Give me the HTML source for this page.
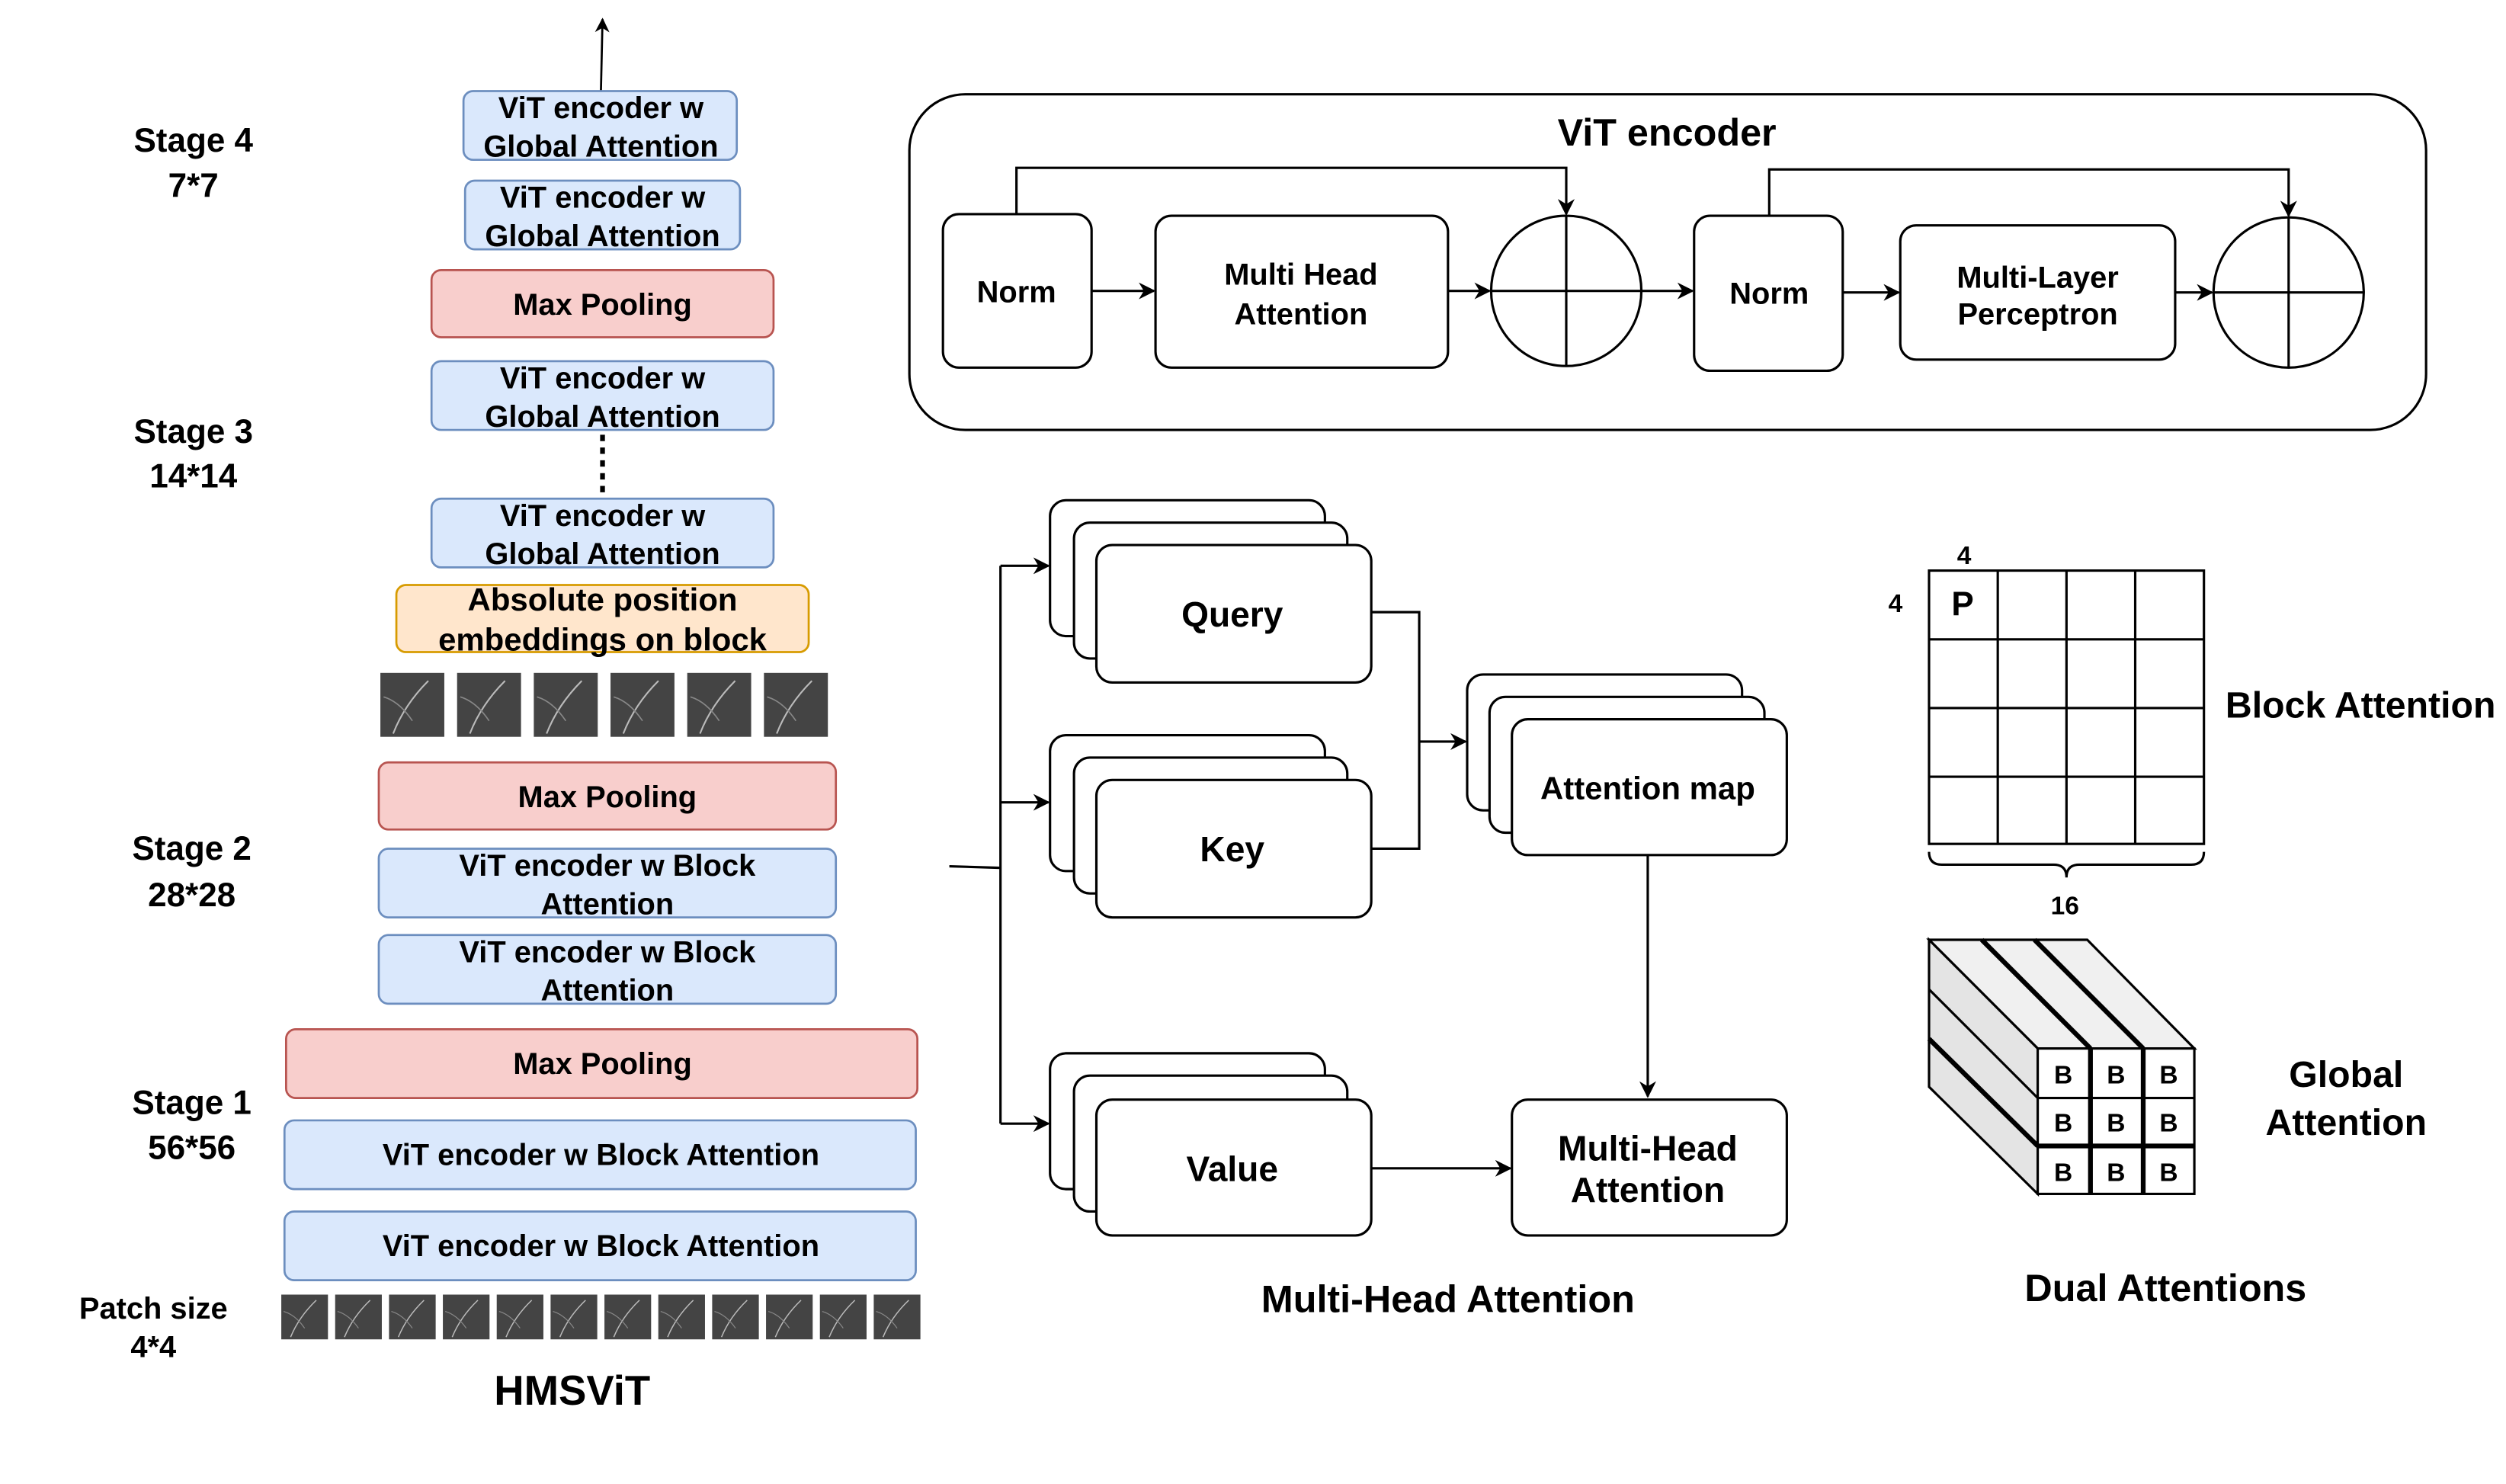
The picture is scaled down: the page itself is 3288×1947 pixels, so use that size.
<!DOCTYPE html>
<html><head><meta charset="utf-8"><style>html,body{margin:0;padding:0;background:#fff}svg{display:block}</style></head>
<body>
<svg width="3288" height="1947" viewBox="0 0 1568 928.5" xmlns="http://www.w3.org/2000/svg" font-family="Liberation Sans, Arial, sans-serif" font-weight="bold">
<defs>
<marker id="a" viewBox="0 0 10 10" refX="9" refY="5" markerWidth="7" markerHeight="7" orient="auto-start-reverse"><path d="M0,0 L10,5 L0,10 L3,5 z" fill="#000"/></marker>
<g id="pt"><rect width="40" height="40" fill="#444"/><path d="M8,38 Q15,20 30,5" stroke="#bbb" stroke-width="1" fill="none"/><path d="M2,15 Q12,18 20,30" stroke="#888" stroke-width="0.8" fill="none"/></g>
</defs>
<rect width="1568" height="928.5" fill="#fff"/>
<g stroke-width="1.3">
<line x1="376" y1="57" x2="377" y2="12" stroke="#000" marker-end="url(#a)"/>
<g fill="#dae8fc" stroke="#6c8ebf">
<rect x="290" y="57" width="171" height="43" rx="6"/>
<rect x="291" y="113" width="172" height="43" rx="6"/>
<rect x="270" y="226" width="214" height="43" rx="6"/>
<rect x="270" y="312" width="214" height="43" rx="6"/>
<rect x="237" y="531" width="286" height="43" rx="6"/>
<rect x="237" y="585" width="286" height="43" rx="6"/>
<rect x="178" y="701" width="395" height="43" rx="6"/>
<rect x="178" y="758" width="395" height="43" rx="6"/>
</g>
<g fill="#f8cecc" stroke="#b85450">
<rect x="270" y="169" width="214" height="42" rx="6"/>
<rect x="237" y="477" width="286" height="42" rx="6"/>
<rect x="179" y="644" width="395" height="43" rx="6"/>
</g>
<rect x="248" y="366" width="258" height="42" rx="6" fill="#ffe6cc" stroke="#d79b00"/>
<line x1="377" y1="272" x2="377" y2="312" stroke="#000" stroke-width="3" stroke-dasharray="4,4"/>
</g>
<g>
<use href="#pt" x="238" y="421"/><use href="#pt" x="286" y="421"/><use href="#pt" x="334" y="421"/>
<use href="#pt" x="382" y="421"/><use href="#pt" x="430" y="421"/><use href="#pt" x="478" y="421"/>
</g>
<g>
<g transform="translate(176,810) scale(0.73,0.7)"><use href="#pt"/></g>
<g transform="translate(209.7,810) scale(0.73,0.7)"><use href="#pt"/></g>
<g transform="translate(243.4,810) scale(0.73,0.7)"><use href="#pt"/></g>
<g transform="translate(277.1,810) scale(0.73,0.7)"><use href="#pt"/></g>
<g transform="translate(310.8,810) scale(0.73,0.7)"><use href="#pt"/></g>
<g transform="translate(344.5,810) scale(0.73,0.7)"><use href="#pt"/></g>
<g transform="translate(378.2,810) scale(0.73,0.7)"><use href="#pt"/></g>
<g transform="translate(411.9,810) scale(0.73,0.7)"><use href="#pt"/></g>
<g transform="translate(445.6,810) scale(0.73,0.7)"><use href="#pt"/></g>
<g transform="translate(479.3,810) scale(0.73,0.7)"><use href="#pt"/></g>
<g transform="translate(513,810) scale(0.73,0.7)"><use href="#pt"/></g>
<g transform="translate(546.7,810) scale(0.73,0.7)"><use href="#pt"/></g>
</g>
<g font-size="19" text-anchor="middle" fill="#000">
<text x="376" y="74">ViT encoder w</text><text x="376" y="98">Global Attention</text>
<text x="377" y="130">ViT encoder w</text><text x="377" y="154">Global Attention</text>
<text x="377" y="197">Max Pooling</text>
<text x="377" y="243">ViT encoder w</text><text x="377" y="267">Global Attention</text>
<text x="377" y="329">ViT encoder w</text><text x="377" y="353">Global Attention</text>
<text x="377" y="382" font-size="20">Absolute position</text><text x="377" y="407" font-size="20">embeddings on block</text>
<text x="380" y="505">Max Pooling</text>
<text x="380" y="548">ViT encoder w Block</text><text x="380" y="572">Attention</text>
<text x="380" y="602">ViT encoder w Block</text><text x="380" y="626">Attention</text>
<text x="377" y="672">Max Pooling</text>
<text x="376" y="729">ViT encoder w Block Attention</text>
<text x="376" y="786">ViT encoder w Block Attention</text>
<g font-size="21">
<text x="121" y="95">Stage 4</text><text x="121" y="123">7*7</text>
<text x="121" y="277">Stage 3</text><text x="121" y="305">14*14</text>
<text x="120" y="538">Stage 2</text><text x="120" y="567">28*28</text>
<text x="120" y="697">Stage 1</text><text x="120" y="725">56*56</text>
</g>
<text x="96" y="825">Patch size</text><text x="96" y="849">4*4</text>
<text x="358" y="879" font-size="26">HMSViT</text>
</g>
<g fill="none" stroke="#000" stroke-width="1.5">
<rect x="569" y="59" width="949" height="210" rx="35"/>
<rect x="590" y="134" width="93" height="96" rx="10"/>
<rect x="723" y="135" width="183" height="95" rx="10"/>
<circle cx="980" cy="182" r="47"/>
<line x1="980" y1="135" x2="980" y2="229"/><line x1="933" y1="182" x2="1027" y2="182"/>
<rect x="1060" y="135" width="93" height="97" rx="10"/>
<rect x="1189" y="141" width="172" height="84" rx="10"/>
<circle cx="1432" cy="183" r="47"/>
<line x1="1432" y1="136" x2="1432" y2="230"/><line x1="1385" y1="183" x2="1479" y2="183"/>
<line x1="683" y1="182" x2="722" y2="182" marker-end="url(#a)"/>
<line x1="906" y1="182" x2="932" y2="182" marker-end="url(#a)"/>
<line x1="1027" y1="182" x2="1059" y2="182" marker-end="url(#a)"/>
<line x1="1153" y1="183" x2="1188" y2="183" marker-end="url(#a)"/>
<line x1="1361" y1="183" x2="1384" y2="183" marker-end="url(#a)"/>
<polyline points="636,134 636,105 980,105 980,134" marker-end="url(#a)"/>
<polyline points="1107,135 1107,106 1432,106 1432,135" marker-end="url(#a)"/>
</g>
<g font-size="19" text-anchor="middle">
<text x="1043" y="91" font-size="24">ViT encoder</text>
<text x="636" y="189">Norm</text>
<text x="814" y="178">Multi Head</text><text x="814" y="203">Attention</text>
<text x="1107" y="190">Norm</text>
<text x="1275" y="180">Multi-Layer</text><text x="1275" y="203">Perceptron</text>
</g>
<g fill="#fff" stroke="#000" stroke-width="1.5">
<polyline fill="none" points="594,542 626,543"/>
<line x1="626" y1="354" x2="626" y2="703"/>
<line x1="626" y1="354" x2="656" y2="354" marker-end="url(#a)"/>
<line x1="626" y1="502" x2="656" y2="502" marker-end="url(#a)"/>
<line x1="626" y1="703" x2="656" y2="703" marker-end="url(#a)"/>
<rect x="657" y="313" width="172" height="85" rx="10"/><rect x="672" y="327" width="171" height="85" rx="10"/><rect x="686" y="341" width="172" height="86" rx="10"/>
<rect x="657" y="460" width="172" height="85" rx="10"/><rect x="672" y="474" width="171" height="85" rx="10"/><rect x="686" y="488" width="172" height="86" rx="10"/>
<rect x="657" y="659" width="172" height="85" rx="10"/><rect x="672" y="673" width="171" height="85" rx="10"/><rect x="686" y="688" width="172" height="85" rx="10"/>
<rect x="918" y="422" width="172" height="85" rx="10"/><rect x="932" y="436" width="172" height="85" rx="10"/><rect x="946" y="450" width="172" height="85" rx="10"/>
<rect x="946" y="688" width="172" height="85" rx="10"/>
<polyline fill="none" points="858,383 888,383 888,531 858,531"/>
<line x1="888" y1="464" x2="917" y2="464" marker-end="url(#a)"/>
<line x1="1031" y1="535" x2="1031" y2="686" marker-end="url(#a)"/>
<line x1="858" y1="731" x2="945" y2="731" marker-end="url(#a)"/>
</g>
<g font-size="22" text-anchor="middle">
<text x="771" y="392">Query</text><text x="771" y="539">Key</text><text x="771" y="739">Value</text>
<text x="1031" y="500" font-size="20">Attention map</text>
<text x="1031" y="726">Multi-Head</text><text x="1031" y="752">Attention</text>
<text x="906" y="821" font-size="24">Multi-Head Attention</text>
</g>
<g fill="none" stroke="#000" stroke-width="1.5">
<rect x="1207" y="357" width="172" height="171"/>
<line x1="1250" y1="357" x2="1250" y2="528"/><line x1="1293" y1="357" x2="1293" y2="528"/><line x1="1336" y1="357" x2="1336" y2="528"/>
<line x1="1207" y1="400" x2="1379" y2="400"/><line x1="1207" y1="443" x2="1379" y2="443"/><line x1="1207" y1="486" x2="1379" y2="486"/>
<path d="M1207,533 Q1207,541 1215,541 L1285,541 Q1293,541 1293,549 Q1293,541 1301,541 L1371,541 Q1379,541 1379,533"/>
</g>
<g font-size="16" text-anchor="middle">
<text x="1229" y="353">4</text><text x="1186" y="383">4</text>
<text x="1228" y="385" font-size="21">P</text>
<text x="1292" y="572">16</text>
<text x="1477" y="449" font-size="23">Block Attention</text>
</g>
<g stroke="#000" stroke-width="1.5">
<polygon points="1207,588 1306,588 1373,656 1275,656" fill="#f0f0f0"/>
<polygon points="1207,588 1275,656 1275,747 1207,680" fill="#e4e4e4"/>
<line x1="1240" y1="588" x2="1308" y2="656" stroke-width="3"/>
<line x1="1273" y1="588" x2="1341" y2="656" stroke-width="3"/>
<line x1="1207" y1="619" x2="1275" y2="687"/>
<line x1="1207" y1="650" x2="1275" y2="717" stroke-width="3"/>
<rect x="1275" y="656" width="98" height="91" fill="#fff"/>
<line x1="1308" y1="656" x2="1308" y2="747" stroke-width="3"/><line x1="1341" y1="656" x2="1341" y2="747" stroke-width="3"/>
<line x1="1275" y1="687" x2="1373" y2="687"/><line x1="1275" y1="717" x2="1373" y2="717" stroke-width="3"/>
</g>
<g font-size="16" text-anchor="middle">
<text x="1291" y="678">B</text><text x="1324" y="678">B</text><text x="1357" y="678">B</text>
<text x="1291" y="708">B</text><text x="1324" y="708">B</text><text x="1357" y="708">B</text>
<text x="1291" y="739">B</text><text x="1324" y="739">B</text><text x="1357" y="739">B</text>
<text x="1468" y="680" font-size="23">Global</text><text x="1468" y="710" font-size="23">Attention</text>
<text x="1355" y="814" font-size="24">Dual Attentions</text>
</g>
</svg>
</body></html>
